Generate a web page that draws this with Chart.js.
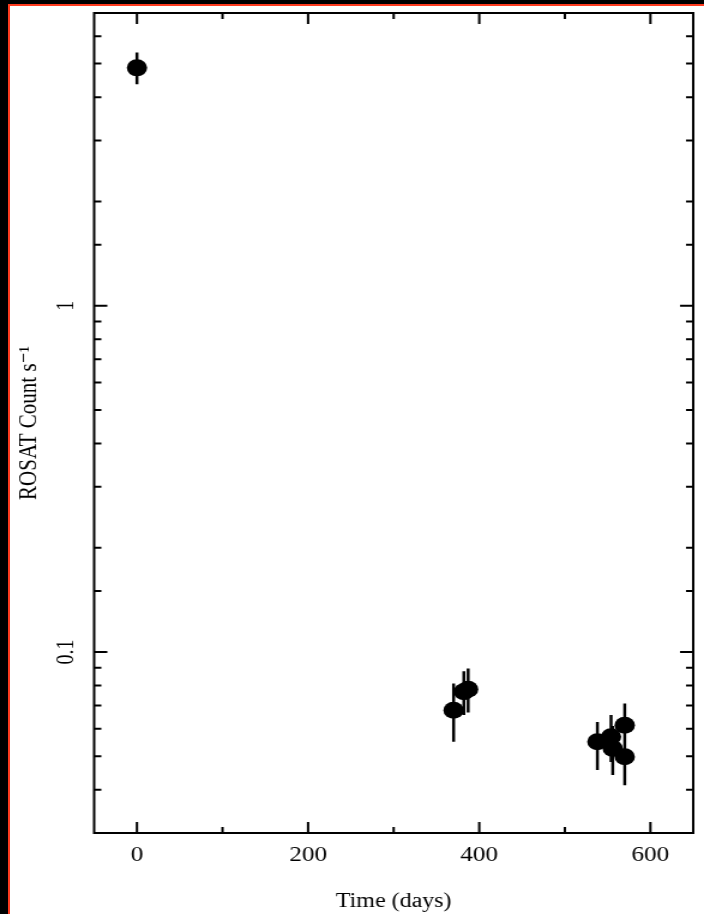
<!DOCTYPE html>
<html>
<head>
<meta charset="utf-8">
<title>ROSAT light curve</title>
<script src="https://cdn.jsdelivr.net/npm/chart.js@4.4.1/dist/chart.umd.min.js"></script>
<style>
  html, body { margin: 0; padding: 0; background: #000; overflow: hidden; }
  #sheet { position: absolute; left: 8px; top: 4px; right: 0; bottom: 0; background: #fff;
           border-left: 2px solid #ff3b1f; border-top: 2px solid #ff3b1f; }
  /* the original figure is stretched sideways, so the canvas is too */
  #plot { position: absolute; left: 0; top: 0; width: 587px; height: 914px;
          transform: scaleX(1.1993); transform-origin: 0 0; }
</style>
</head>
<body>
<div id="sheet"></div>
<div id="plot"><canvas id="lightCurve" width="587" height="914"></canvas></div>
<script>
// time since outburst (days) and ROSAT count rate with error bar ends
const days   = [0, 370, 382, 387, 538, 554, 556, 570, 570];
const rate   = [4.86, 0.0679, 0.0768, 0.0780, 0.0550, 0.0569, 0.0526, 0.0614, 0.0498];
const rateLo = [4.36, 0.0550, 0.0657, 0.0668, 0.0456, 0.0481, 0.0441, 0.0518, 0.0412];
const rateHi = [5.38, 0.0811, 0.0880, 0.0896, 0.0628, 0.0657, 0.0611, 0.0710, 0.0584];

const xTickValues = [0, 100, 200, 300, 400, 500, 600];
const xTickLabels = [0, 200, 400, 600];
const yTickLabels = [0.1, 1];

const SERIF = "'Liberation Serif', 'DejaVu Serif', serif";

const points = days.map((d, i) => ({x: d, y: rate[i]}));
const errorBars = [];
days.forEach((d, i) => {
  errorBars.push({x: d, y: rateLo[i]}, {x: d, y: rateHi[i]}, {x: d, y: null});
});

const isNear = (a, b) => Math.abs(a - b) < b * 1e-6;

// inward ticks on all four sides plus the frame
const frameTicks = {
  id: 'frameTicks',
  afterDatasetsDraw(chart) {
    const {ctx, chartArea: a, scales: {x, y}} = chart;
    ctx.save();
    ctx.strokeStyle = '#000';
    ctx.lineWidth = 2;
    ctx.beginPath();
    x.ticks.forEach(t => {
      const px = x.getPixelForValue(t.value);
      const len = t.value % 200 === 0 ? 11 : 6;
      ctx.moveTo(px, a.bottom); ctx.lineTo(px, a.bottom - len);
      ctx.moveTo(px, a.top); ctx.lineTo(px, a.top + len);
    });
    y.ticks.forEach(t => {
      const py = y.getPixelForValue(t.value);
      const lg = Math.log10(t.value);
      const len = Math.abs(lg - Math.round(lg)) < 1e-6 ? 11 : 6;
      ctx.moveTo(a.left, py); ctx.lineTo(a.left + len, py);
      ctx.moveTo(a.right, py); ctx.lineTo(a.right - len, py);
    });
    ctx.stroke();
    ctx.strokeRect(a.left, a.top, a.right - a.left, a.bottom - a.top);
    ctx.restore();
  }
};

new Chart(document.getElementById('lightCurve'), {
  type: 'scatter',
  data: {
    datasets: [
      {
        data: points,
        backgroundColor: '#000',
        borderWidth: 0,
        pointRadius: 8.5,
        pointHoverRadius: 8.5
      },
      {
        data: errorBars,
        showLine: true,
        spanGaps: false,
        borderColor: '#000',
        borderWidth: 2.5,
        pointRadius: 0,
        pointHoverRadius: 0
      }
    ]
  },
  options: {
    responsive: false,
    animation: false,
    layout: {padding: {left: 0, top: 13, right: 9, bottom: 0}},
    plugins: {legend: {display: false}, tooltip: {enabled: false}},
    scales: {
      x: {
        type: 'linear',
        min: -50,
        max: 650,
        afterBuildTicks: s => { s.ticks = xTickValues.map(v => ({value: v})); },
        afterFit: s => { s.height = 81; s.paddingLeft = 0; s.paddingRight = 0; },
        grid: {display: false, drawTicks: false},
        border: {display: false},
        ticks: {
          autoSkip: false,
          maxRotation: 0,
          padding: 10,
          color: '#000',
          font: {family: SERIF, size: 21},
          callback: v => xTickLabels.includes(v) ? String(v) : ''
        },
        title: {
          display: true,
          text: 'Time (days)',
          color: '#000',
          font: {family: SERIF, size: 20},
          padding: {top: 0, bottom: 0}
        }
      },
      y: {
        type: 'logarithmic',
        min: 0.03,
        max: 7,
        afterFit: s => { s.width = 78.5; s.paddingTop = 0; s.paddingBottom = 0; },
        grid: {display: false, drawTicks: false},
        border: {display: false},
        ticks: {
          autoSkip: false,
          minRotation: 90,
          maxRotation: 90,
          crossAlign: 'center',
          padding: 10,
          color: '#000',
          font: {family: SERIF, size: 20},
          callback: v => {
            const hit = yTickLabels.find(l => isNear(v, l));
            return hit === undefined ? '' : String(hit);
          }
        },
        title: {
          display: true,
          text: 'ROSAT Count s\u207B\u00B9',
          color: '#000',
          font: {family: SERIF, size: 21},
          padding: {top: 12, bottom: 0}
        }
      }
    }
  },
  plugins: [frameTicks]
});
</script>
</body>
</html>
